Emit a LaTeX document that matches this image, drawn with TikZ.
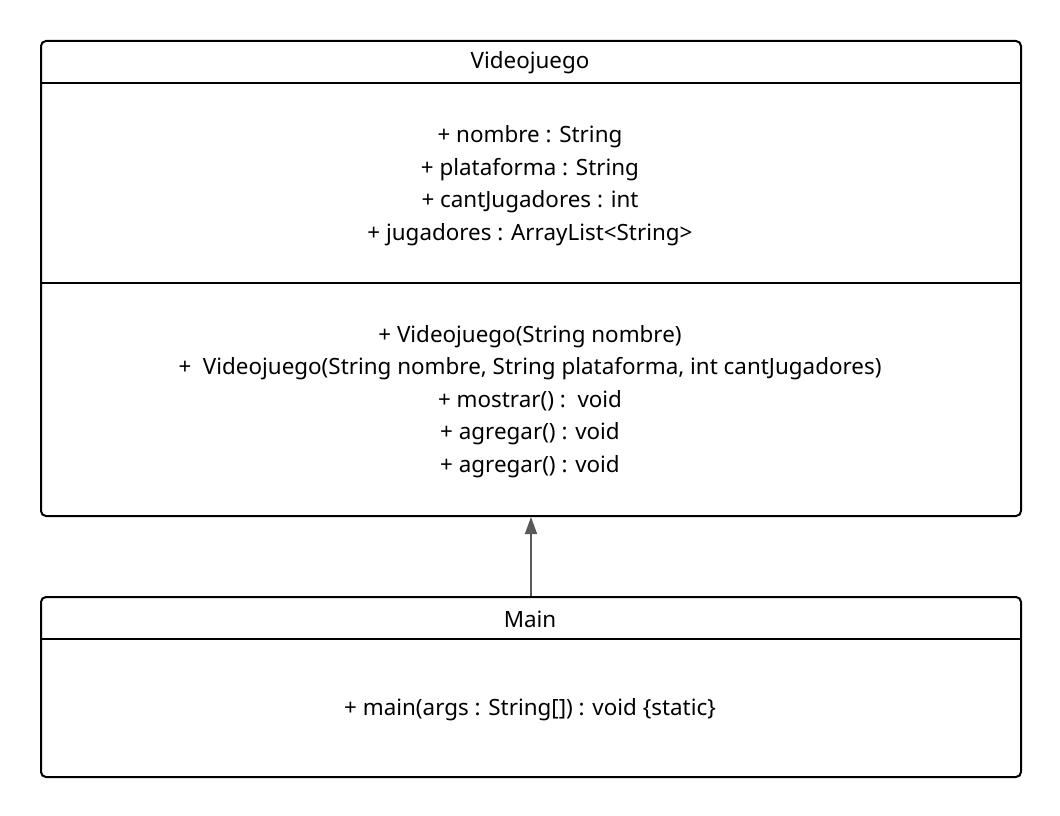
\documentclass[tikz,border=0pt]{standalone}
\usepackage{fontspec}
\setmainfont{Noto Sans}
\usetikzlibrary{arrows.meta}
\tikzset{
  umlbox/.style={draw=black, line width=2pt, rounded corners=5pt, inner sep=0pt, anchor=north west},
  divider/.style={draw=black, line width=2pt},
  txt/.style={font=\fontsize{22.4}{32.5}\selectfont, align=center, inner sep=0pt, text=black},
  inherit/.style={draw=black!65, line width=1.6pt, -{Triangle[length=17pt,width=12pt]}}
}
\begin{document}
\begin{tikzpicture}[x=1pt,y=-1pt]
\useasboundingbox (0,0) rectangle (1060,816);
\node[umlbox, minimum width=980pt, minimum height=475pt] (vj) at (40,40) {};
\node[umlbox, minimum width=980pt, minimum height=180pt] (mn) at (40,596) {};
\coordinate (vjd1l) at (40,83); \coordinate (vjd1r) at (1020,83);
\coordinate (vjd2l) at (40,283); \coordinate (vjd2r) at (1020,283);
\coordinate (mnd1l) at (40,639); \coordinate (mnd1r) at (1020,639);
\draw[divider] (vjd1l) -- (vjd1r);
\draw[divider] (vjd2l) -- (vjd2r);
\draw[divider] (mnd1l) -- (mnd1r);
\node[txt] (vjt) at (530,63) {Videojuego};
\node[txt] (vja) at (530,185.5) {+ nombre : String\\+ plataforma : String\\+ cantJugadores : int\\+ jugadores : ArrayList<String>};
\node[txt] (vjm) at (530,401.5) {+ Videojuego(String nombre)\\+\ \ Videojuego(String nombre, String plataforma, int cantJugadores)\\+ mostrar() :\ \ void\\+ agregar() : void\\+ agregar() : void};
\node[txt] (mnt) at (530,619) {Main};
\node[txt] (mnm) at (530,709.5) {+ main(args : String[]) : void \{static\}};
\draw[inherit] (mn.north) -- (vj.south);
\end{tikzpicture}
\end{document}
